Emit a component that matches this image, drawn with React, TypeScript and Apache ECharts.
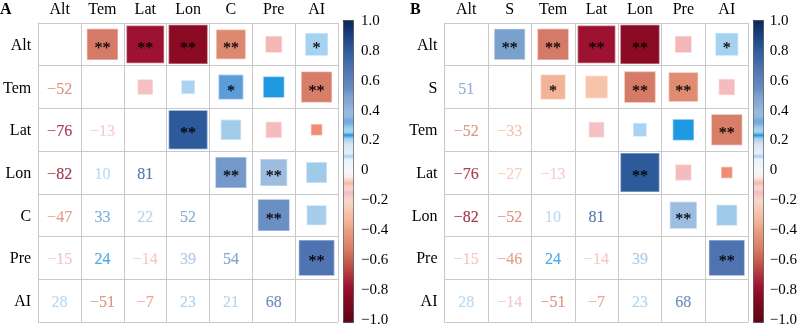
import React, { useEffect, useRef } from "react";
import * as echarts from "echarts";

// ---- data ----
const varsA = ["Alt", "Tem", "Lat", "Lon", "C", "Pre", "AI"];
// lower triangle: corrA[i][j], j < i
const corrA: number[][] = [
  [],
  [-0.52],
  [-0.76, -0.13],
  [-0.82, 0.1, 0.81],
  [-0.47, 0.33, 0.22, 0.52],
  [-0.15, 0.24, -0.14, 0.39, 0.54],
  [0.28, -0.51, -0.07, 0.23, 0.21, 0.68],
];
const sigA: string[][] = [
  [],
  ["**"],
  ["**", ""],
  ["**", "", "**"],
  ["**", "*", "", "**"],
  ["", "", "", "**", "**"],
  ["*", "**", "", "", "", "**"],
];

const varsB = ["Alt", "S", "Tem", "Lat", "Lon", "Pre", "AI"];
const corrB: number[][] = [
  [],
  [0.51],
  [-0.52, -0.33],
  [-0.76, -0.27, -0.13],
  [-0.82, -0.52, 0.1, 0.81],
  [-0.15, -0.46, 0.24, -0.14, 0.39],
  [0.28, -0.14, -0.51, -0.07, 0.23, 0.68],
];
const sigB: string[][] = [
  [],
  ["**"],
  ["**", "*"],
  ["**", "", ""],
  ["**", "**", "", "**"],
  ["", "**", "", "", "**"],
  ["*", "", "**", "", "", "**"],
];

const barTicks = { min: -1, max: 1, interval: 0.2 };

// ---- colour map (value -> colour) ----
const CMAP_STOPS: [number, string][] = [
  [-1.0, "#5a0614"],
  [-0.82, "#8b0a24"],
  [-0.76, "#9c1230"],
  [-0.6, "#c45a4c"],
  [-0.52, "#d57a66"],
  [-0.46, "#df8c72"],
  [-0.4, "#e89c82"],
  [-0.33, "#f2b498"],
  [-0.27, "#f5c4ab"],
  [-0.2, "#f8d8ca"],
  [-0.16, "#f6c9c6"],
  [-0.15, "#f4b7b8"],
  [-0.13, "#f5c0c1"],
  [-0.11, "#f9e2de"],
  [-0.08, "#f6b8a8"],
  [-0.07, "#f08c76"],
  [-0.06, "#f7cfc4"],
  [-0.04, "#fbeae6"],
  [0.0, "#f4f8fc"],
  [0.08, "#e9f2fa"],
  [0.1, "#aad3f1"],
  [0.12, "#e4eff9"],
  [0.19, "#d4e5f4"],
  [0.21, "#a6cdeb"],
  [0.23, "#9fcaea"],
  [0.24, "#1e98e0"],
  [0.25, "#a4cfee"],
  [0.28, "#a6d2f2"],
  [0.31, "#88bbe6"],
  [0.33, "#5c9cd8"],
  [0.35, "#8db6df"],
  [0.39, "#9dbde0"],
  [0.45, "#87aad5"],
  [0.51, "#7aa0cc"],
  [0.52, "#7398c9"],
  [0.54, "#6a8fc3"],
  [0.68, "#4f73b0"],
  [0.81, "#2d5a9b"],
  [1.0, "#08255a"],
];

function hexToRgb(h: string) {
  const n = parseInt(h.slice(1), 16);
  return [(n >> 16) & 255, (n >> 8) & 255, n & 255];
}
function cmap(v: number): string {
  const s = CMAP_STOPS;
  if (v <= s[0][0]) return s[0][1];
  if (v >= s[s.length - 1][0]) return s[s.length - 1][1];
  for (let k = 0; k < s.length - 1; k++) {
    const [v0, c0] = s[k];
    const [v1, c1] = s[k + 1];
    if (v >= v0 - 1e-9 && v <= v1 + 1e-9) {
      const t = v1 === v0 ? 0 : (v - v0) / (v1 - v0);
      const a = hexToRgb(c0);
      const b = hexToRgb(c1);
      const r = a.map((x, i) => Math.round(x + (b[i] - x) * t));
      return `rgb(${r[0]},${r[1]},${r[2]})`;
    }
  }
  return s[0][1];
}
const RAMP = Array.from({ length: 201 }, (_, k) => cmap(-1 + k * 0.01));

const FONT = "Liberation Serif";
const GRID_LINE = "#c9c9c9";

function fmtCorr(v: number) {
  const n = Math.round(v * 100);
  return n < 0 ? "\u2212" + Math.abs(n) : String(n);
}
function fmtTick(v: number) {
  if (Math.abs(v) < 1e-9) return "0";
  const s = Math.abs(v).toFixed(1);
  return v < 0 ? "\u2212" + s : s;
}

function buildPanel(
  vars: string[],
  corr: number[][],
  sig: string[][],
  gridIdx: number,
  cell: number
) {
  const squares: any[] = [];
  const texts: any[] = [];
  for (let i = 1; i < corr.length; i++) {
    for (let j = 0; j < i; j++) {
      const v = corr[i][j];
      const c = cmap(v);
      squares.push({ value: [i, j, v], star: sig[i][j] });
      texts.push({
        value: [j, i, v],
        label: { color: c, textBorderColor: c, textBorderWidth: 0.15 },
      });
    }
  }
  const squareSeries = {
    type: "scatter",
    xAxisIndex: gridIdx,
    yAxisIndex: gridIdx,
    symbol: "rect",
    symbolSize: (val: number[]) => {
      const s = cell * Math.sqrt(Math.abs(val[2]));
      return [s, s];
    },
    itemStyle: { borderColor: "rgba(255,255,255,0.45)", borderWidth: 1.5, opacity: 1 },
    label: {
      show: true,
      position: "inside",
      formatter: (p: any) => p.data.star,
      color: "#000",
      fontSize: 16,
      fontFamily: FONT,
      textBorderColor: "#000",
      textBorderWidth: 0.2,
      offset: [0, 3],
    },
    data: squares,
    z: 3,
  };
  const textSeries = {
    type: "scatter",
    xAxisIndex: gridIdx,
    yAxisIndex: gridIdx,
    symbolSize: 0,
    itemStyle: { color: "transparent" },
    label: {
      show: true,
      position: "inside",
      formatter: (p: any) => fmtCorr(p.value[2]),
      fontSize: 16,
      fontFamily: FONT,
      offset: [0, 1],
    },
    data: texts,
    z: 3,
  };
  const xAxis = {
    type: "category",
    gridIndex: gridIdx,
    data: vars,
    position: "top",
    axisLine: { show: true, lineStyle: { color: GRID_LINE, width: 1 } },
    axisTick: { show: false },
    axisLabel: { color: "#000", fontSize: 16, fontFamily: FONT, margin: 7, interval: 0 },
    splitLine: { show: true, interval: 0, lineStyle: { color: GRID_LINE, width: 1 } },
  };
  const yAxis = {
    type: "category",
    gridIndex: gridIdx,
    data: vars,
    inverse: true,
    axisLine: { show: true, lineStyle: { color: GRID_LINE, width: 1 } },
    axisTick: { show: false },
    axisLabel: {
      color: "#000",
      fontSize: 16,
      fontFamily: FONT,
      margin: 7,
      interval: 0,
      padding: [0, 0, 6, 0],
    },
    splitLine: { show: true, interval: 0, lineStyle: { color: GRID_LINE, width: 1 } },
  };
  return { squareSeries, textSeries, xAxis, yAxis };
}

function barAxes(gridIdx: number) {
  return {
    xAxis: { type: "value", gridIndex: gridIdx, show: false, min: 0, max: 1 },
    yAxis: {
      type: "value",
      gridIndex: gridIdx,
      position: "right",
      min: barTicks.min,
      max: barTicks.max,
      interval: barTicks.interval,
      axisLine: { show: false },
      axisTick: { show: true, length: 3, lineStyle: { color: "#333" } },
      splitLine: { show: false },
      axisLabel: {
        color: "#000",
        fontSize: 15,
        fontFamily: FONT,
        margin: 8,
        formatter: fmtTick,
      },
    },
  };
}

export default function App() {
  const ref = useRef<HTMLDivElement>(null);
  useEffect(() => {
    if (!ref.current) return;
    const chart = echarts.init(ref.current, undefined, { renderer: "svg" });
    const gA = { left: 35, top: 20, width: 303, height: 302 };
    const gB = { left: 444.5, top: 20, width: 304, height: 302 };
    const pA = buildPanel(varsA, corrA, sigA, 0, gA.width / 7);
    const pB = buildPanel(varsB, corrB, sigB, 2, gB.width / 7);
    const bA = barAxes(1);
    const bB = barAxes(3);
    const vm = (left: number, seriesIndex: number) => ({
      type: "continuous",
      min: -1,
      max: 1,
      orient: "vertical",
      left,
      top: 20,
      itemWidth: 10,
      itemHeight: 302,
      padding: 0,
      calculable: false,
      hoverLink: false,
      text: null,
      showLabel: false,
      seriesIndex,
      dimension: 2,
      inRange: { color: RAMP },
      borderColor: "#444",
      borderWidth: 1,
    });
    chart.setOption({
      animation: false,
      textStyle: { fontFamily: FONT },
      grid: [
        gA,
        { left: 343, top: 20, width: 10, height: 302 },
        gB,
        { left: 753, top: 20, width: 10, height: 302 },
      ],
      xAxis: [pA.xAxis, bA.xAxis, pB.xAxis, bB.xAxis],
      yAxis: [pA.yAxis, bA.yAxis, pB.yAxis, bB.yAxis],
      visualMap: [vm(343, 0), vm(753, 2)],
      series: [pA.squareSeries, pA.textSeries, pB.squareSeries, pB.textSeries],
      graphic: [
        {
          type: "text",
          left: 0,
          top: 0,
          style: { text: "A", font: `bold 16px "${FONT}"`, fill: "#000" },
        },
        {
          type: "text",
          left: 410,
          top: 0,
          style: { text: "B", font: `bold 16px "${FONT}"`, fill: "#000" },
        },
      ],
    });
    return () => chart.dispose();
  }, []);
  return (
    <div
      ref={ref}
      style={{ position: "fixed", left: 0, top: 0, width: 800, height: 326 }}
    />
  );
}
